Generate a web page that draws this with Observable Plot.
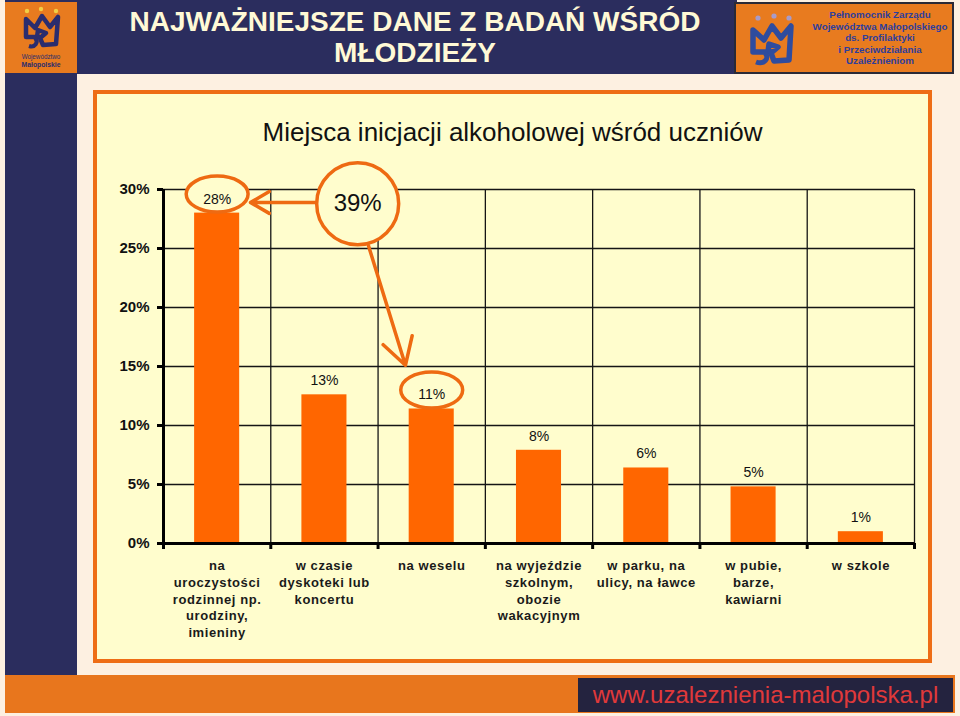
<!DOCTYPE html>
<html lang="pl">
<head>
<meta charset="utf-8">
<script src="https://cdn.jsdelivr.net/npm/d3@7"></script>
<script src="https://cdn.jsdelivr.net/npm/@observablehq/plot@0.6"></script>
<style>
  html, body { margin: 0; padding: 0; }
  body { width: 960px; height: 716px; position: relative; overflow: hidden; background: #FDF0E1; font-family: "Liberation Sans", Arial, sans-serif; }
  .abs { position: absolute; box-sizing: border-box; }
  #chart svg g[aria-label^="y-axis"] line, #chart svg g[aria-label^="y-axis"] path,
  #chart svg g[aria-label^="x-axis"] line, #chart svg g[aria-label^="x-axis"] path { stroke-width: 3px; stroke: #000; }
  #chart svg g[font-size="13"] text { letter-spacing: 0.6px; }
</style>
</head>
<body>
<!-- left navy strip -->
<div class="abs" style="left:5px;top:0;width:72px;height:676px;background:#2B2D5E;"></div>
<!-- header band -->
<div class="abs" style="left:77px;top:0;width:660px;height:74px;background:#2B2D5E;"></div>
<div class="abs" style="left:77px;top:6px;width:676px;text-align:center;color:#FFF9D6;font-weight:bold;font-size:28px;line-height:31px;">NAJWAŻNIEJSZE DANE Z BADAŃ WŚRÓD<br>MŁODZIEŻY</div>
<!-- left logo -->
<div class="abs" style="left:5px;top:2px;width:72px;height:71px;background:#E87B1F;">
  <svg width="72" height="71" viewBox="0 0 72 71">
    <circle cx="22" cy="9" r="2.2" fill="#F2CF45"/><circle cx="36" cy="7" r="2.2" fill="#F2CF45"/><circle cx="51" cy="9" r="2.2" fill="#F2CF45"/>
    <path d="M21 17 L30 26 L37 14 L45 25 L53 15 L51 42 L38 43 L35 36 L41 31 L33 28 L32 35 L21 35 Z" fill="none" stroke="#2B2D6E" stroke-width="4.5" stroke-linejoin="round"/>
    <path d="M24 44 C30 46 34 40 30 36" fill="none" stroke="#2B2D6E" stroke-width="4"/>
    <text x="36" y="57" text-anchor="middle" font-size="6.3" fill="#2B2D6E">Województwo</text>
    <text x="36" y="65" text-anchor="middle" font-size="6.8" font-weight="bold" fill="#2B2D6E">Małopolskie</text>
  </svg>
</div>
<!-- right logo box -->
<div class="abs" style="left:734px;top:2px;width:220px;height:72px;background:#E87B1F;border:2px solid #2A2A36;">
  <svg class="abs" style="left:8px;top:4px;" width="60" height="62" viewBox="0 0 60 62">
    <circle cx="14" cy="10" r="2.6" fill="#A79BC9"/><circle cx="30" cy="8" r="2.6" fill="#A79BC9"/><circle cx="45" cy="10" r="2.6" fill="#A79BC9"/>
    <path d="M9 22 L20 32 L28 18 L37 30 L47 18 L45 52 L30 53 L27 45 L34 39 L25 36 L24 44 L9 44 Z" fill="none" stroke="#2F4C9E" stroke-width="5.5" stroke-linejoin="round"/>
    <path d="M12 54 C20 57 26 50 21 45" fill="none" stroke="#2F4C9E" stroke-width="5"/>
  </svg>
  <div class="abs" style="left:70px;top:5px;width:148px;text-align:center;color:#2E3E9C;font-weight:bold;font-size:9.8px;line-height:11.6px;">Pełnomocnik Zarządu<br>Województwa Małopolskiego<br>ds. Profilaktyki<br>i Przeciwdziałania<br>Uzależnieniom</div>
</div>
<!-- footer -->
<div class="abs" style="left:5px;top:675px;width:950px;height:38px;background:#E8761D;"></div>
<div class="abs" style="left:578px;top:678px;width:375px;height:34px;background:#24233F;color:#E0393A;font-size:24px;line-height:34px;text-align:center;">www.uzaleznienia-malopolska.pl</div>
<!-- chart panel -->
<div class="abs" style="left:93px;top:90px;width:839px;height:573px;background:#FFFDCD;border:4px solid #EE6D15;"></div>
<div class="abs" id="title" style="left:93px;top:116px;width:839px;text-align:center;font-size:26px;color:#111;line-height:32px;"></div>
<div class="abs" id="chart" style="left:99px;top:150px;"></div>
<script>
// ---- data ----
const chartTitle = "Miejsca inicjacji alkoholowej wśród uczniów";
const categories = [
  "na\nuroczystości\nrodzinnej np.\nurodziny,\nimieniny",
  "w czasie\ndyskoteki lub\nkoncertu",
  "na weselu",
  "na wyjeździe\nszkolnym,\nobozie\nwakacyjnym",
  "w parku, na\nulicy, na ławce",
  "w pubie,\nbarze,\nkawiarni",
  "w szkole"
];
const values = [28, 12.6, 11.4, 7.9, 6.4, 4.8, 1.0];
const valueLabels = ["28%", "13%", "11%", "8%", "6%", "5%", "1%"];
const yTicks = [0, 5, 10, 15, 20, 25, 30];
const highlightedIdx = [0, 2];
const calloutText = ["39%"];
const calloutX = [1.81];
const calloutY = [28.8];
const arrowFromX = [1.42, 1.91];
const arrowFromY = [28.9, 25.25];
const arrowToX = [0.81, 2.255];
const arrowToY = [28.9, 15.1];

// ---- build ----
document.getElementById("title").textContent = chartTitle;
const orange = "#EE6A12";
const barColor = "#FF6600";
const panelFill = "#FFFDCD";
const rows = categories.map((c, i) => ({i, category: c, value: values[i], label: valueLabels[i]}));
const boundaries = d3.range(categories.length + 1);
const highlightRows = rows.filter(r => highlightedIdx.includes(r.i));
const callouts = calloutText.map((t, k) => ({text: t, x: calloutX[k], y: calloutY[k]}));
const arrows = arrowFromX.map((_, k) => ({x1: arrowFromX[k], y1: arrowFromY[k], x2: arrowToX[k], y2: arrowToY[k]}));

const ellipseSymbol = {
  draw(ctx, size) {
    const ry = Math.sqrt(size / Math.PI), rx = ry * 1.72, k = 0.5523;
    ctx.moveTo(rx, 0);
    ctx.bezierCurveTo(rx, ry * k, rx * k, ry, 0, ry);
    ctx.bezierCurveTo(-rx * k, ry, -rx, ry * k, -rx, 0);
    ctx.bezierCurveTo(-rx, -ry * k, -rx * k, -ry, 0, -ry);
    ctx.bezierCurveTo(rx * k, -ry, rx, -ry * k, rx, 0);
    ctx.closePath();
  }
};

const plot = Plot.plot({
  width: 826,
  height: 500,
  marginLeft: 64,
  marginRight: 11,
  marginTop: 39,
  marginBottom: 107,
  style: {background: "transparent", fontFamily: "'Liberation Sans', Arial, sans-serif", fontSize: "15px", fontWeight: "bold", color: "#111", overflow: "visible"},
  x: {domain: [0, categories.length], ticks: boundaries, tickFormat: () => "", tickSize: 6, label: null},
  y: {domain: [0, 30], ticks: yTicks, tickFormat: d => d + "%", tickSize: 6, tickPadding: 8, label: null},
  marks: [
    Plot.ruleY(yTicks.filter(d => d > 0), {stroke: "#151515", strokeWidth: 1.3}),
    Plot.ruleX(boundaries.filter(d => d > 0), {stroke: "#151515", strokeWidth: 1.3}),
    Plot.rect(rows, {x1: d => d.i + 0.29, x2: d => d.i + 0.71, y1: 0, y2: "value", fill: barColor}),
    Plot.ruleY([0], {stroke: "#000", strokeWidth: 3}),
    Plot.ruleX([0], {stroke: "#000", strokeWidth: 3}),
    Plot.arrow(arrows, {x1: "x1", y1: "y1", x2: "x2", y2: "y2", stroke: orange, strokeWidth: 3.5, headLength: 13}),
    Plot.dot(highlightRows, {x: d => d.i + 0.5, y: "value", dy: -19, r: 18, symbol: ellipseSymbol, stroke: orange, strokeWidth: 3.5, fill: panelFill}),
    Plot.dot(callouts, {x: "x", y: "y", r: 41, stroke: orange, strokeWidth: 3.5, fill: panelFill}),
    Plot.text(rows, {x: d => d.i + 0.5, y: "value", dy: -14, text: "label", fontSize: 14, fontWeight: "normal", fill: "#111"}),
    Plot.text(callouts, {x: "x", y: "y", text: "text", fontSize: 24, fontWeight: "normal", fill: "#111"}),
    Plot.text(rows, {x: d => d.i + 0.5, y: 0, text: "category", lineAnchor: "top", dy: 15, fontSize: 13, fontWeight: "bold", lineHeight: 1.28, fill: "#1a1a1a"})
  ]
});
document.getElementById("chart").appendChild(plot);
</script>
</body>
</html>
